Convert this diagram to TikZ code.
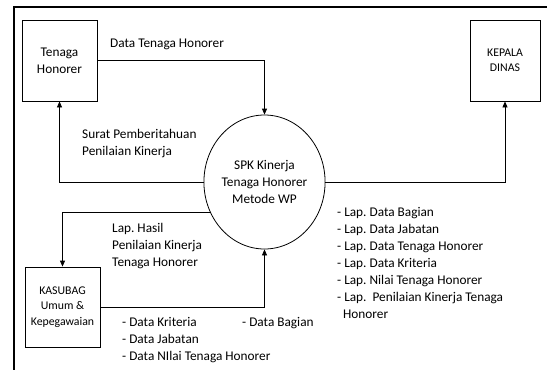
\documentclass[tikz,border=0pt]{standalone}
\usepackage{fontspec}
\setmainfont{Carlito}
\usetikzlibrary{shapes.geometric,arrows.meta}
\frenchspacing
\tikzset{
    ent/.style={draw,line width=0.8pt,align=center,inner sep=0pt,font=\fontsize{11.8}{15.5}\selectfont},
    proc/.style={draw,ellipse,line width=0.8pt,align=center,inner sep=0pt,minimum width=119pt,minimum height=134pt},
    lbl/.style={anchor=west,align=left,inner sep=0pt},
    flow/.style={line width=0.8pt,-{Triangle[length=6pt,width=5pt]}}
}
\begin{document}
\begin{tikzpicture}[x=1pt,y=-1pt,font=\fontsize{13.3}{17}\selectfont]
        \useasboundingbox (0,0) rectangle (547,370);
        \draw[line width=1.6pt] (14,370) -- (14,7) -- (547,7);
        \node[ent,minimum width=75pt,minimum height=81pt,font=\fontsize{13.3}{17}\selectfont] (th) at (59.5,60.5) {Tenaga\\Honorer};
        \node[ent,minimum width=70pt,minimum height=81pt] (kd) at (505,60.5) {KEPALA\\DINAS};
        \node[ent,minimum width=75pt,minimum height=80pt] (ks) at (62.5,307) {KASUBAG\\Umum \&\\Kepegawaian};
        \node[proc] (spk) at (264.5,182) {SPK Kinerja\\Tenaga Honorer\\Metode WP};
        \draw[flow] (th.east) -| (spk.north);
        \draw[flow] (spk.west) -| (th.south);
        \draw[flow] (spk.east) -| (kd.south);
        \draw[flow] (spk.209.4) -| (ks.north);
        \draw[flow] (ks.east) -| (spk.south);
        \node[lbl] (l1) at (110,44) {Data Tenaga Honorer};
        \node[lbl] (l2) at (82,143.5) {Surat Pemberitahuan\\Penilaian Kinerja};
        \node[lbl] (l3) at (112,246) {Lap. Hasil\\Penilaian Kinerja\\Tenaga Honorer};
        \node[lbl] (l4) at (122,340) {- Data Kriteria\\- Data Jabatan\\- Data NIlai Tenaga Honorer};
        \node[lbl] (l5) at (242,323) {- Data Bagian};
        \node[lbl] (l6) at (337,263) {- Lap. Data Bagian\\- Lap. Data Jabatan\\- Lap. Data Tenaga Honorer\\- Lap. Data Kriteria\\- Lap. Nilai Tenaga Honorer\\- Lap.\ \ Penilaian Kinerja Tenaga\\\hspace*{6pt}Honorer};
    \end{tikzpicture}
\end{document}
